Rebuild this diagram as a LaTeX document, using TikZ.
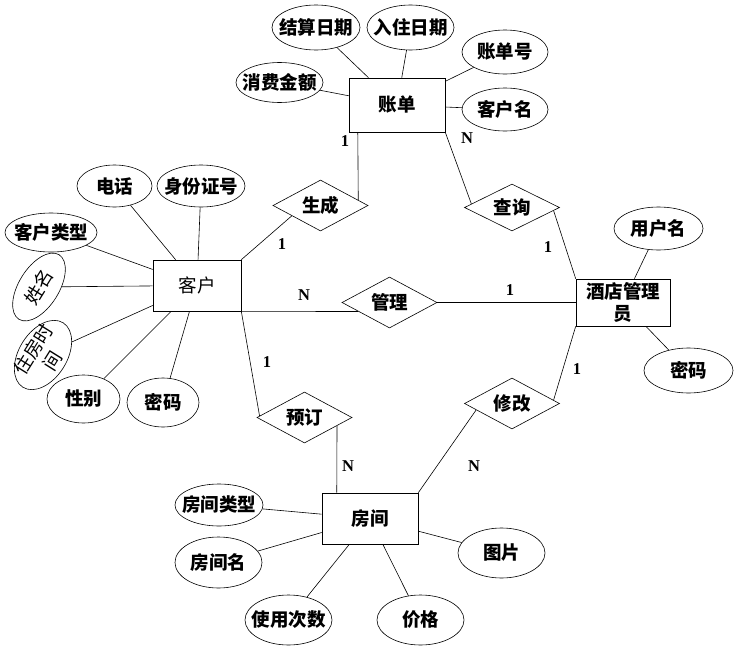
\documentclass[tikz,border=0pt]{standalone}
\usepackage{fontspec}
\newfontfamily\cjk{Noto Sans CJK SC}
\newfontfamily\labfont{Liberation Serif}
\usetikzlibrary{shapes.geometric,calc}
\begin{document}
\begin{tikzpicture}[x=1pt,y=-1pt,line width=0.6pt,
  cjkb/.style={font=\cjk\bfseries\fontsize{18.5}{22}\selectfont},
  cjkr/.style={font=\cjk\fontsize{18.5}{22}\selectfont},
  attr/.style={ellipse,draw,inner sep=-8pt,cjkb},
  ent/.style={rectangle,draw,inner sep=0pt,cjkb},
  rel/.style={diamond,draw,inner sep=0pt,aspect=1.86,minimum width=95pt,minimum height=51pt,cjkb},
  card/.style={font=\labfont\bfseries\fontsize{16.5}{18}\selectfont,inner sep=0pt}]
\useasboundingbox (0,0) rectangle (734,648);
% entities
\node[ent,minimum width=96pt,minimum height=54pt] (zd) at (397,105) {账单};
\node[ent,cjkr,minimum width=88pt,minimum height=51pt] (kh) at (197,285.5) {客户};
\node[ent,minimum width=94pt,minimum height=47pt,align=center] (gly) at (623,302.5) {酒店管理\\员};
\node[ent,minimum width=96pt,minimum height=51pt] (fj) at (370,518.5) {房间};
% relationships
\node[rel] (sc) at (320.5,205.5) {生成};
\node[rel,minimum height=47pt,aspect=2] (cx) at (512,207.5) {查询};
\node[rel] (gl) at (389.5,302.5) {管理};
\node[rel] (yd) at (304.5,417.5) {预订};
\node[rel] (xg) at (512,403.5) {修改};
% attributes
\node[attr,minimum width=88pt,minimum height=45pt] (jsrq) at (316,27.5) {结算日期};
\node[attr,minimum width=87pt,minimum height=45pt] (rzrq) at (410.5,27.5) {入住日期};
\node[attr,minimum width=86pt,minimum height=44pt] (zdh) at (505,52) {账单号};
\node[attr,minimum width=86pt,minimum height=43pt] (khm) at (505,109.5) {客户名};
\node[attr,minimum width=87pt,minimum height=40pt] (xfje) at (279.5,82.5) {消费金额};
\node[attr,minimum width=75pt,minimum height=42pt] (dh) at (114.5,186) {电话};
\node[attr,minimum width=88pt,minimum height=42pt] (sfzh) at (201,186) {身份证号};
\node[attr,minimum width=92pt,minimum height=39pt] (khlx) at (51,232.5) {客户类型};
\node[attr,cjkr,minimum width=76pt,minimum height=40pt,rotate=58] (xm) at (39,287) {姓名};
\node[attr,cjkr,minimum width=76pt,minimum height=48pt,rotate=58,align=center] (zfsj) at (43,355) {住房时\\间};
\node[attr,minimum width=73pt,minimum height=48pt] (xb) at (83.5,399) {性别};
\node[attr,minimum width=72pt,minimum height=49pt] (mm1) at (163,402.5) {密码};
\node[attr,minimum width=89pt,minimum height=43pt] (yhm) at (658.5,228.5) {用户名};
\node[attr,minimum width=89pt,minimum height=45pt] (mm2) at (688.5,370.5) {密码};
\node[attr,minimum width=88pt,minimum height=42pt] (fjlx) at (219,505) {房间类型};
\node[attr,minimum width=87pt,minimum height=51pt] (fjm) at (218.5,562.5) {房间名};
\node[attr,minimum width=87pt,minimum height=50pt] (sycs) at (288.5,620) {使用次数};
\node[attr,minimum width=87pt,minimum height=50pt] (jg) at (420.5,620) {价格};
\node[attr,minimum width=87pt,minimum height=50pt] (tp) at (501.5,553) {图片};
% attribute connectors
\foreach \a/\b in {jsrq/zd,rzrq/zd,zdh/zd,khm/zd,xfje/zd,
  dh/kh,sfzh/kh,khlx/kh,xm/kh,zfsj/kh,xb/kh,mm1/kh,
  yhm/gly,mm2/gly,fjlx/fj,fjm/fj,sycs/fj,jg/fj,tp/fj}
  \draw (\a) -- (\b);
% relationship connectors
\draw ($(zd.south west)!0.094!(zd.south east)$) -- ($(sc.north)!0.79!(sc.east)$);
\draw (kh.north east) -- ($(sc.west)!0.4!(sc.south)$);
\draw (zd.south east) -- ($(cx.west)!0.15!(cx.north)$);
\draw ($(cx.east)!0.13!(cx.south)$) -- (gly.north west);
\draw (kh.south east) -- ($(gl.west)!0.35!(gl.south)$);
\draw (gl.east) -- (gly.west);
\draw (kh.south east) -- ($(yd.west)!0.06!(yd.north)$);
\draw ($(yd.east)!0.32!(yd.south)$) -- ($(fj.north west)!0.156!(fj.north east)$);
\draw (fj.north east) -- ($(xg.west)!0.25!(xg.south)$);
\draw ($(xg.east)!0.13!(xg.north)$) -- (gly.south west);
% cardinalities
\node[card] (c1) at (345,141) {1};
\node[card] (c2) at (467,138) {N};
\node[card] (c3) at (282,244) {1};
\node[card] (c4) at (548,247) {1};
\node[card] (c5) at (304,295) {N};
\node[card] (c6) at (510,290) {1};
\node[card] (c7) at (267,362) {1};
\node[card] (c8) at (348,466) {N};
\node[card] (c9) at (474,466) {N};
\node[card] (c10) at (577,369) {1};
\end{tikzpicture}
\end{document}
